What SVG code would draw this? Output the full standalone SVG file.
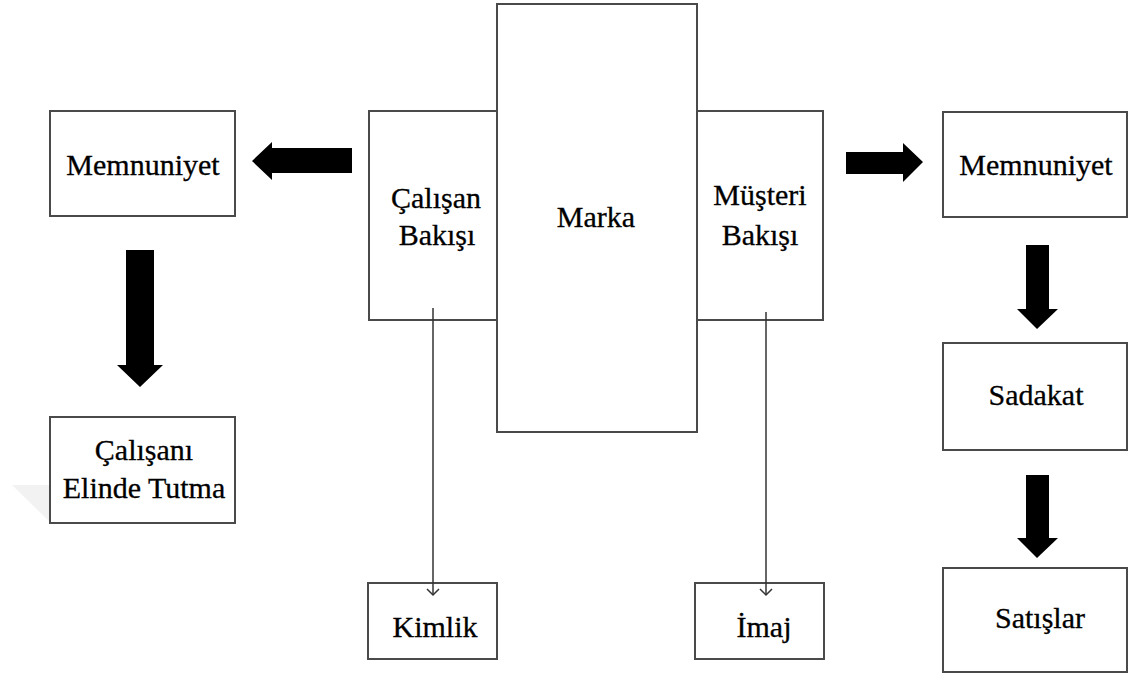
<svg xmlns="http://www.w3.org/2000/svg" width="1134" height="680" viewBox="0 0 1134 680">
<style>
.box{fill:#fff;stroke:#4a4a4a;stroke-width:2}
.t{font-family:"Liberation Serif","Times New Roman",serif;font-size:30px;fill:#000;text-anchor:middle;stroke:#000;stroke-width:0.3}
.big{fill:#000}
.thin{stroke:#333;stroke-width:1.5;fill:none}
</style>
<defs>
<marker id="open" markerWidth="10" markerHeight="14" refX="8" refY="7" orient="auto" markerUnits="userSpaceOnUse" viewBox="0 0 10 14">
<path d="M2,1 L8,7 L2,13" fill="none" stroke="#333" stroke-width="1.5"/>
</marker>
</defs>
<rect width="1134" height="680" fill="#fff"/>
<polygon points="12,485 50,485 50,522" fill="#f2f2f2"/>
<g id="marka"><rect class="box" x="497" y="4" width="200" height="428"/><text class="t" x="596" y="227">Marka</text></g>
<g id="calisan-bakisi"><rect class="box" x="369" y="111" width="128" height="209"/><text class="t" x="436" y="208">Çalışan</text><text class="t" x="437" y="245">Bakışı</text></g>
<g id="musteri-bakisi"><rect class="box" x="697" y="111" width="126" height="209"/><text class="t" x="760" y="205">Müşteri</text><text class="t" x="760" y="245">Bakışı</text></g>
<g id="memnuniyet-sol"><rect class="box" x="50" y="111" width="185" height="105"/><text class="t" x="143" y="175">Memnuniyet</text></g>
<g id="memnuniyet-sag"><rect class="box" x="943" y="112" width="184" height="105"/><text class="t" x="1036" y="175">Memnuniyet</text></g>
<g id="calisani-elinde-tutma"><rect class="box" x="50" y="417" width="185" height="106"/><text class="t" x="144" y="460">Çalışanı</text><text class="t" x="144" y="498">Elinde Tutma</text></g>
<g id="sadakat"><rect class="box" x="943" y="343" width="184" height="107"/><text class="t" x="1036" y="405">Sadakat</text></g>
<g id="satislar"><rect class="box" x="943" y="568" width="184" height="104"/><text class="t" x="1040" y="628">Satışlar</text></g>
<g id="kimlik"><rect class="box" x="368" y="583" width="129" height="76"/><text class="t" x="435" y="637">Kimlik</text></g>
<g id="imaj"><rect class="box" x="695" y="583" width="129" height="76"/><text class="t" x="764" y="637">İmaj</text></g>
<g id="connectors">
<polygon class="big" points="352,148 272,148 272,142 252,161 272,180 272,173 352,173"/>
<polygon class="big" points="846,152 903,152 903,143 923,162 903,182 903,174 846,174"/>
<polygon class="big" points="126,250 154,250 154,365 163,365 140,387 117,365 126,365"/>
<polygon class="big" points="1026,245 1049,245 1049,309 1058,309 1037,329 1017,309 1026,309"/>
<polygon class="big" points="1026,475 1049,475 1049,538 1058,538 1037,558 1017,538 1026,538"/>
<line class="thin" x1="433" y1="308" x2="433" y2="595" marker-end="url(#open)"/>
<line class="thin" x1="766" y1="312" x2="766" y2="595" marker-end="url(#open)"/>
</g>
</svg>
